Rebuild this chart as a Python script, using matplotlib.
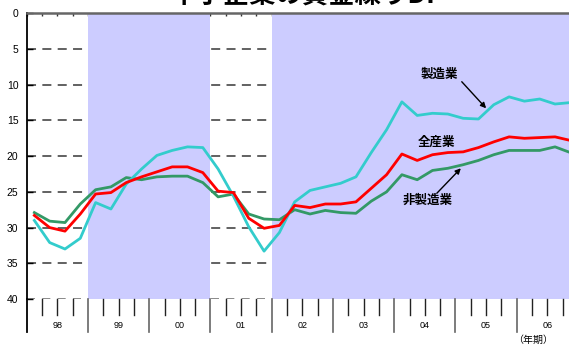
import numpy as np
import matplotlib
matplotlib.use("Agg")
from matplotlib import pyplot as plt
from matplotlib import transforms

CJK = ['Noto Sans CJK JP', 'DejaVu Sans']

# quarterly DI, 1998Q1 - 2006Q4 (plotted on an inverted axis)
years = ['98', '99', '00', '01', '02', '03', '04', '05', '06']
mfg = [29.0, 32.1, 33.0, 31.5, 26.5, 27.4, 23.9, 21.8, 19.9, 19.2, 18.7, 18.8,
       21.8, 25.6, 29.9, 33.3, 30.7, 26.4, 24.8, 24.3, 23.8, 22.9, 19.5, 16.3,
       12.4, 14.3, 14.0, 14.1, 14.7, 14.8, 12.8, 11.7, 12.3, 12.0, 12.7, 12.5]
all_ind = [28.3, 30.0, 30.5, 28.1, 25.3, 25.1, 23.7, 22.9, 22.2, 21.5, 21.5, 22.3,
           24.9, 25.1, 28.7, 30.1, 29.7, 26.9, 27.2, 26.7, 26.7, 26.4, 24.5, 22.6,
           19.7, 20.6, 19.8, 19.5, 19.4, 18.8, 18.0, 17.3, 17.5, 17.4, 17.3, 17.8]
non_mfg = [27.9, 29.1, 29.3, 26.7, 24.7, 24.3, 23.0, 23.3, 22.9, 22.8, 22.8, 23.7,
           25.7, 25.3, 28.1, 28.8, 28.9, 27.5, 28.1, 27.6, 27.9, 28.0, 26.3, 25.0,
           22.6, 23.3, 22.0, 21.7, 21.2, 20.6, 19.8, 19.2, 19.2, 19.2, 18.7, 19.5]
# shaded periods (start year, end year exclusive)
shade = [(1999, 2001), (2002, 2007)]

W, H = 569, 348
fig = plt.figure(figsize=(W / 100, H / 100), dpi=100)
left, right, top, bottom = 26.7, 578.0, 13.3, 299.0
ax = fig.add_axes([left / W, 1 - bottom / H, (right - left) / W, (bottom - top) / H])
ax.set_xlim(0, 36)
ax.set_ylim(40, 0)

# dashed grid under the shading
for v in range(5, 40, 5):
    ax.axhline(v, color='#555555', lw=1.3, ls=(0, (5, 3.5)), zorder=1)
ax.axhline(40, color='#777777', lw=1.2, ls=(0, (4.8, 4.4)), zorder=1)

for a, b in shade:
    ax.axvspan((a - 1998) * 4, (b - 1998) * 4, color='#CCCCFF', lw=0, zorder=2)

x = np.arange(len(mfg)) + 0.5
ax.plot(x, non_mfg, color='#339966', lw=2, zorder=3, clip_on=False)
ax.plot(x, mfg, color='#33CCCC', lw=2, zorder=3, clip_on=False)
ax.plot(x, all_ind, color='#FF0000', lw=2, zorder=4, clip_on=False)

# series labels
ax.text(26.93, 8.5, '製造業', ha='center', va='center', fontsize=9,
        fontweight='bold', family=CJK, zorder=5)
ax.text(26.73, 18.1, '全産業', ha='center', va='center', fontsize=9,
        fontweight='bold', family=CJK, zorder=5)
ax.text(26.18, 26.2, '非製造業', ha='center', va='center', fontsize=9,
        fontweight='bold', family=CJK, zorder=5)
arw = dict(arrowstyle='-|>', color='black', lw=1, mutation_scale=8, shrinkA=0, shrinkB=0)
ax.annotate('', xy=(30.0, 13.3), xytext=(28.41, 9.58), arrowprops=arw, zorder=5)
ax.annotate('', xy=(28.35, 21.7), xytext=(26.78, 25.2), arrowprops=arw, zorder=5)

# spines / ticks
for s in ['right', 'bottom']:
    ax.spines[s].set_visible(False)
ax.spines['top'].set_color('#666666')
ax.spines['top'].set_linewidth(1.8)
ax.spines['left'].set_linewidth(1.3)
ax.spines['top'].set_zorder(6)
ax.spines['left'].set_zorder(6)
ax.set_yticks(range(0, 45, 5))
ax.tick_params(axis='y', direction='in', length=4.5, width=1, pad=6,
               labelsize=7.5, labelfontfamily='Liberation Sans')
ax.xaxis.tick_top()
ax.set_xticks(range(0, 37))
ax.set_xticklabels([])
ax.tick_params(axis='x', direction='in', length=2.5, width=1, color='#333333')

# quarter / year marks under the axis
tr = transforms.blended_transform_factory(ax.transData, ax.transAxes)
ax.plot([0, 0], [0, -0.116], transform=tr, color='black', lw=1.3, clip_on=False)
for q in range(1, 37):
    if q % 4 == 0:
        ax.plot([q, q], [0, -0.116], transform=tr, color='#666666', lw=1.2, clip_on=False)
    else:
        ax.plot([q, q], [0, -0.056], transform=tr, color='#222222', lw=1, clip_on=False)
for i, yr in enumerate(years):
    ax.text(i * 4 + 2, -0.0935, yr, transform=tr, ha='center', va='center',
            fontsize=6.5, family='Liberation Sans')
ax.text(33.07, -0.1435, '（年期）', transform=tr, ha='center', va='center',
        fontsize=7.2, family=CJK)

fig.text(303 / W, 1 - 3.5 / H, '中小企業の資金繰りDI', ha='center', va='baseline',
         fontsize=19, fontweight='bold', family=CJK)

fig.savefig('out.png', dpi=100)
